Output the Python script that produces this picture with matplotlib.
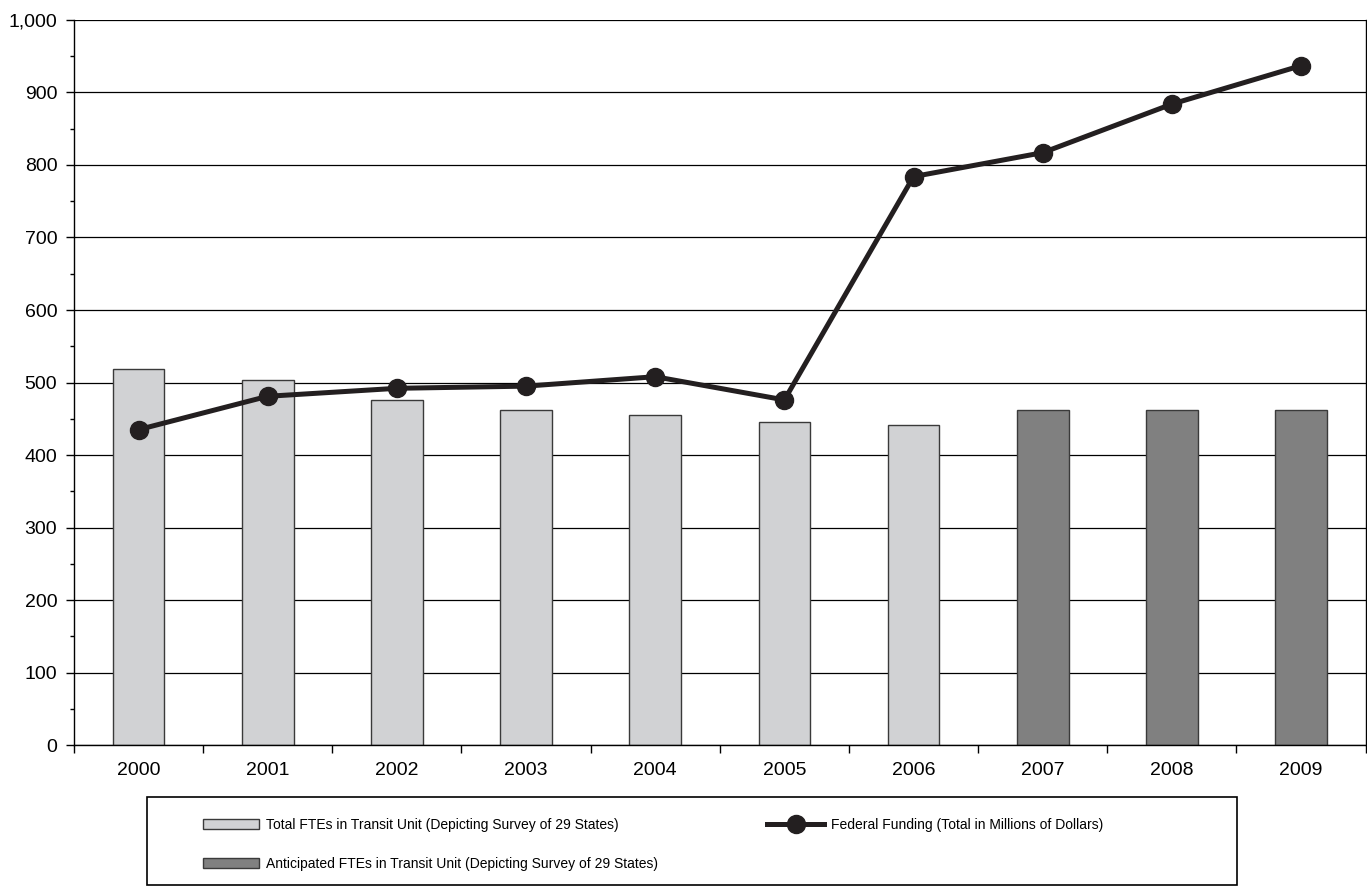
import numpy as np
import matplotlib.pyplot as plt
from matplotlib.patches import Rectangle
from matplotlib.lines import Line2D
from matplotlib.ticker import MultipleLocator, FuncFormatter

# data
years = ['2000', '2001', '2002', '2003', '2004', '2005', '2006', '2007', '2008', '2009']
ftes_total = [519, 504, 476, 462, 455, 446, 442, None, None, None]
ftes_anticipated = [None, None, None, None, None, None, None, 462, 462, 462]
funding = [435, 481, 492, 495, 508, 476, 784, 817, 884, 937]

LIGHT = '#d1d2d4'
DARK = '#808080'
EDGE = '#3a3a3a'
LINE = '#231f20'

plt.rcParams['font.family'] = ['Liberation Sans', 'DejaVu Sans']

fig = plt.figure(figsize=(13.67, 8.88), dpi=100)
ax = fig.add_axes([0.0541, 0.161, 0.9449, 0.8165])

x = np.arange(len(years))
w = 0.4
for i in range(len(years)):
    if ftes_total[i] is not None:
        ax.bar(x[i], ftes_total[i], w, color=LIGHT, edgecolor=EDGE, linewidth=1, zorder=2)
    if ftes_anticipated[i] is not None:
        ax.bar(x[i], ftes_anticipated[i], w, color=DARK, edgecolor=EDGE, linewidth=1, zorder=2)

ax.plot(x, funding, color=LINE, lw=3.6, marker='o', ms=13, zorder=3)

ax.set_xlim(-0.5, len(years) - 0.5)
ax.set_ylim(0, 1000)
ax.yaxis.set_major_locator(MultipleLocator(100))
ax.yaxis.set_minor_locator(MultipleLocator(50))
ax.yaxis.set_major_formatter(FuncFormatter(lambda v, p: f'{int(v):,}'))
ax.grid(axis='y', which='major', color='black', lw=0.9, zorder=1)

ax.set_xticks(x)
ax.set_xticklabels(years)
ax.set_xticks(np.arange(-0.5, len(years)), minor=True)
ax.tick_params(axis='x', which='major', length=0, labelsize=14, pad=12)
ax.tick_params(axis='x', which='minor', length=6, direction='out', width=1)
ax.tick_params(axis='y', which='major', length=6, width=1, labelsize=14, pad=6)
ax.tick_params(axis='y', which='minor', length=3, width=1)

ax.spines['top'].set_visible(False)
for s in ['left', 'bottom', 'right']:
    ax.spines[s].set_linewidth(1)
    ax.spines[s].set_color('black')

# legend box
fig.patches.append(Rectangle((147 / 1367, 1 - 885 / 888), (1237 - 147) / 1367, (885 - 797) / 888,
                             transform=fig.transFigure, fill=False, edgecolor='black', lw=1.2))
handles = [
    Rectangle((0, 0), 1, 1, facecolor=LIGHT, edgecolor=EDGE, lw=1),
    Rectangle((0, 0), 1, 1, facecolor=DARK, edgecolor=EDGE, lw=1),
    Line2D([], [], color=LINE, lw=3.6, marker='o', ms=13),
]
labels = [
    'Total FTEs in Transit Unit (Depicting Survey of 29 States)',
    'Anticipated FTEs in Transit Unit (Depicting Survey of 29 States)',
    'Federal Funding (Total in Millions of Dollars)',
]
fig.legend(handles, labels, ncol=2, frameon=False, loc='upper left',
           bbox_to_anchor=(0.139, 1 - 805 / 888), handlelength=4.1, handletextpad=0.45,
           columnspacing=7.9, labelspacing=1.8,
           prop={'family': ['Liberation Sans'], 'size': 10})

plt.savefig('out.png')
